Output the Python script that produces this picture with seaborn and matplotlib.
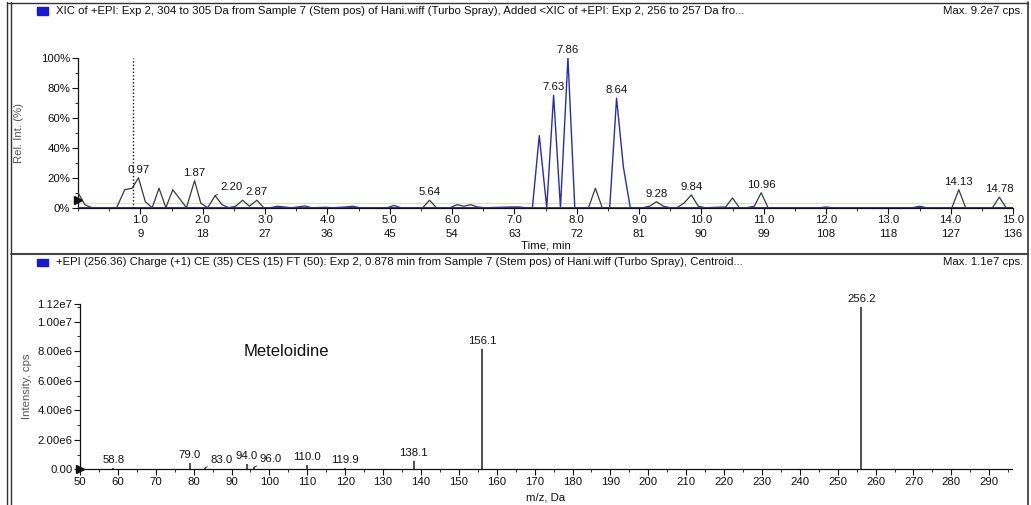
import matplotlib
matplotlib.use("Agg")
import matplotlib.pyplot as plt
import matplotlib.patches as mpatches
from matplotlib.lines import Line2D
from matplotlib.ticker import FixedLocator, MultipleLocator
import seaborn as sns
import pandas as pd

# ---------------- data ----------------
# XIC trace 1 (black, small peaks), time in min, relative intensity in %
xic_black_time = [0.00, 0.11, 0.22, 0.62, 0.75, 0.87, 0.97, 1.08, 1.19, 1.30, 1.41, 1.52, 1.63, 1.74,
                  1.87, 1.97, 2.08, 2.20, 2.31, 2.42, 2.53, 2.64, 2.75, 2.87, 2.98, 3.09, 3.20, 3.31,
                  3.42, 3.53, 3.64, 3.75, 3.97, 4.08, 4.30, 4.41, 4.52, 4.96, 5.07, 5.18, 5.53, 5.64,
                  5.75, 5.97, 6.08, 6.19, 6.30, 6.41, 6.52, 6.96, 7.07, 7.18, 8.19, 8.30, 8.41, 9.06,
                  9.17, 9.28, 9.39, 9.50, 9.61, 9.72, 9.84, 9.95, 10.06, 10.39, 10.50, 10.61, 10.72,
                  10.85, 10.96, 11.07, 11.90, 12.00, 12.10, 13.39, 13.50, 13.61, 14.02, 14.13, 14.24,
                  14.67, 14.78, 14.89, 15.00]
xic_black_val = [10, 2, 0, 0, 12, 13, 20, 4, 0, 13, 0, 12, 6, 0,
                 18, 3, 0, 8, 2, 0, 1, 5, 1, 5, 0, 0, 1, 0.5,
                 0, 0.5, 1.2, 0, 0.3, 0, 0.5, 1, 0, 0, 1.5, 0, 0, 5,
                 0, 0, 2, 1, 2, 0.5, 0, 0.5, 0.5, 0, 0, 13, 0, 0,
                 1, 4, 1, 0, 0, 3, 8.5, 1, 0, 0.5, 6.5, 0, 0,
                 1, 10, 0, 0, 0.5, 0, 0, 1, 0, 0, 12, 0,
                 0, 7, 0, 0]
# XIC trace 2 (blue), big peaks
xic_blue_time = [0.00, 7.29, 7.40, 7.52, 7.63, 7.74, 7.86, 7.97, 8.53, 8.64, 8.75, 8.86, 15.00]
xic_blue_val = [0, 0, 48, 0, 75, 0, 100, 0, 0, 73, 27, 0, 0]

peak_times = [0.97, 1.87, 2.87, 5.64, 7.63, 7.86, 8.64, 9.28, 9.84, 10.96, 14.13, 14.78]
peak_heights = [20, 18, 5, 5, 75, 100, 73, 4, 8.5, 10, 12, 7]
offset_peak_time = [2.20]
offset_peak_height = [8]

time_ticks = [1.0, 2.0, 3.0, 4.0, 5.0, 6.0, 7.0, 8.0, 9.0, 10.0, 11.0, 12.0, 13.0, 14.0, 15.0]
scan_ticks = [9, 18, 27, 36, 45, 54, 63, 72, 81, 90, 99, 108, 118, 127, 136]
rel_ticks = [0, 20, 40, 60, 80, 100]
marker_time = 0.878

# MS/MS spectrum
ms_mz = [58.8, 79.0, 83.0, 94.0, 96.0, 110.0, 119.9, 138.1, 156.1, 256.2]
ms_int = [1.2e5, 4.5e5, 1.0e5, 3.5e5, 1.5e5, 3.0e5, 1.0e5, 5.5e5, 8.15e6, 1.1e7]
ms_offset_labels = [83.0, 96.0]
int_ticks = [0, 2e6, 4e6, 6e6, 8e6, 1e7, 1.12e7]
int_tick_labels = ["0.00", "2.00e6", "4.00e6", "6.00e6", "8.00e6", "1.00e7", "1.12e7"]
mz_ticks = list(range(50, 300, 10))

title_top = ("XIC of +EPI: Exp 2, 304 to 305 Da from Sample 7 (Stem pos) of Hani.wiff (Turbo Spray), "
             "Added <XIC of +EPI: Exp 2, 256 to 257 Da fro...")
max_top = "Max. 9.2e7 cps."
title_bot = ("+EPI (256.36) Charge (+1) CE (35) CES (15) FT (50): Exp 2, 0.878 min from Sample 7 "
             "(Stem pos) of Hani.wiff (Turbo Spray), Centroid...")
max_bot = "Max. 1.1e7 cps."
compound = "Meteloidine"

# ---------------- style ----------------
sns.set_theme(style="white")
plt.rcParams['font.family'] = ['Liberation Sans', 'DejaVu Sans']
FS = 8.2

W, H = 1031, 505
fig = plt.figure(figsize=(W / 100, H / 100), dpi=100)
fig.patch.set_facecolor("white")


def fx(px):
    return px / W


def fy(py):
    return 1 - py / H


# frame decorations
for x in (7, 11):
    fig.add_artist(Line2D([fx(x), fx(x)], [fy(2), fy(505)], color="#333333", lw=1.0))
fig.add_artist(Line2D([fx(1028), fx(1028)], [fy(2), fy(505)], color="#333333", lw=1.2))
fig.add_artist(Line2D([fx(7), fx(1028)], [fy(2.5), fy(2.5)], color="#333333", lw=1.0))
fig.add_artist(Line2D([fx(11), fx(1028)], [fy(254), fy(254)], color="#444444", lw=1.5))

# title bars
for ty, tt, mt in ((11, title_top, max_top), (262, title_bot, max_bot)):
    fig.add_artist(mpatches.Rectangle((fx(37), fy(ty + 3.5)), fx(11), fy(0) - fy(7),
                                      color="#1a1acc", transform=fig.transFigure))
    fig.text(fx(56), fy(ty), tt, fontsize=FS, ha="left", va="center", color="#111111")
    fig.text(fx(1023), fy(ty), mt, fontsize=FS, ha="right", va="center", color="#111111")

# ---------------- top: XIC ----------------
ax1 = fig.add_axes([fx(78), fy(207.7), fx(1013) - fx(78), fy(57.7) - fy(207.7)])
ax1.axhline(3, color="#e0dfc4", lw=0.8, zorder=1)
df_b = pd.DataFrame({"t": xic_black_time, "v": xic_black_val})
df_u = pd.DataFrame({"t": xic_blue_time, "v": xic_blue_val})
sns.lineplot(data=df_b, x="t", y="v", ax=ax1, color="#3a3a3a", lw=0.9, sort=False,
             estimator=None, zorder=3)
sns.lineplot(data=df_u, x="t", y="v", ax=ax1, color="#2a2ab8", lw=1.0, sort=False,
             estimator=None, zorder=4)
ax1.axvline(marker_time, color="#111111", ls=(0, (1, 1.5)), lw=1.0, zorder=5)
ax1.plot(xic_black_time[0], xic_black_val[0] * 0.5, marker=">", color="#111111", ms=6,
         clip_on=False, zorder=6)

for t, h in zip(peak_times, peak_heights):
    ax1.annotate(f"{t:.2f}", (t, h), xytext=(0, 2), textcoords="offset points",
                 ha="center", va="bottom", fontsize=FS, color="#111111")
for t, h in zip(offset_peak_time, offset_peak_height):
    ax1.annotate(f"{t:.2f}", (t, h), xytext=(4, 3), textcoords="offset points",
                 ha="left", va="bottom", fontsize=FS, color="#111111",
                 arrowprops=dict(arrowstyle="-", color="#111111", lw=0.6, shrinkA=0, shrinkB=0))

ax1.set_xlim(0, 15)
ax1.set_ylim(0, 100)
ax1.xaxis.set_major_locator(FixedLocator(time_ticks))
ax1.set_xticklabels([f"{t:.1f}\n{s}" for t, s in zip(time_ticks, scan_ticks)], linespacing=1.45)
ax1.xaxis.set_minor_locator(MultipleLocator(0.5))
ax1.yaxis.set_major_locator(FixedLocator(rel_ticks))
ax1.set_yticklabels([f"{v}%" for v in rel_ticks])
ax1.yaxis.set_minor_locator(MultipleLocator(10))
ax1.set_xlabel("Time, min", fontsize=FS, labelpad=1, color="#111111")
ax1.set_ylabel("Rel. Int. (%)", fontsize=FS, labelpad=12, color="#555555")

# ---------------- bottom: MS/MS ----------------
ax2 = fig.add_axes([fx(80), fy(469.3), fx(1012) - fx(80), fy(304) - fy(469.3)])
ax2.vlines(ms_mz, 0, ms_int, color="#222222", lw=1.1, zorder=3)
for m, v in zip(ms_mz, ms_int):
    if m in ms_offset_labels:
        ax2.annotate(f"{m:.1f}", (m, v), xytext=(4, 2), textcoords="offset points",
                     ha="left", va="bottom", fontsize=FS, color="#111111",
                     arrowprops=dict(arrowstyle="-", color="#111111", lw=0.6, shrinkA=0, shrinkB=0))
    else:
        ax2.annotate(f"{m:.1f}", (m, v), xytext=(0, 2), textcoords="offset points",
                     ha="center", va="bottom", fontsize=FS, color="#111111")
ax2.plot(0, 0, marker=">", color="#111111", ms=6, transform=ax2.transAxes, clip_on=False, zorder=6)
ax2.text(0.221, 0.71, compound, transform=ax2.transAxes, fontsize=12, ha="center",
         va="center", color="#111111")

ax2.set_xlim(50, 296)
ax2.set_ylim(0, 1.12e7)
ax2.xaxis.set_major_locator(FixedLocator(mz_ticks))
ax2.set_xticklabels([str(m) for m in mz_ticks])
ax2.xaxis.set_minor_locator(MultipleLocator(5))
ax2.yaxis.set_major_locator(FixedLocator(int_ticks))
ax2.set_yticklabels(int_tick_labels)
ax2.yaxis.set_minor_locator(MultipleLocator(1e6))
ax2.set_xlabel("m/z, Da", fontsize=FS, labelpad=4, color="#111111")
ax2.set_ylabel("Intensity, cps", fontsize=FS, labelpad=4, color="#555555")

for ax in (ax1, ax2):
    sns.despine(ax=ax)
    ax.set_facecolor("none")
    for s in ("left", "bottom"):
        ax.spines[s].set_color("#111111")
        ax.spines[s].set_linewidth(0.9)
    ax.tick_params(which="major", direction="out", length=4, width=0.8, color="#111111",
                   labelsize=FS, labelcolor="#111111", pad=1.5, bottom=True, left=True)
    ax.tick_params(which="minor", direction="out", length=2, width=0.6, color="#111111",
                   bottom=True, left=True)
    ax.grid(False)

fig.savefig("out.png", dpi=100, facecolor="white")
